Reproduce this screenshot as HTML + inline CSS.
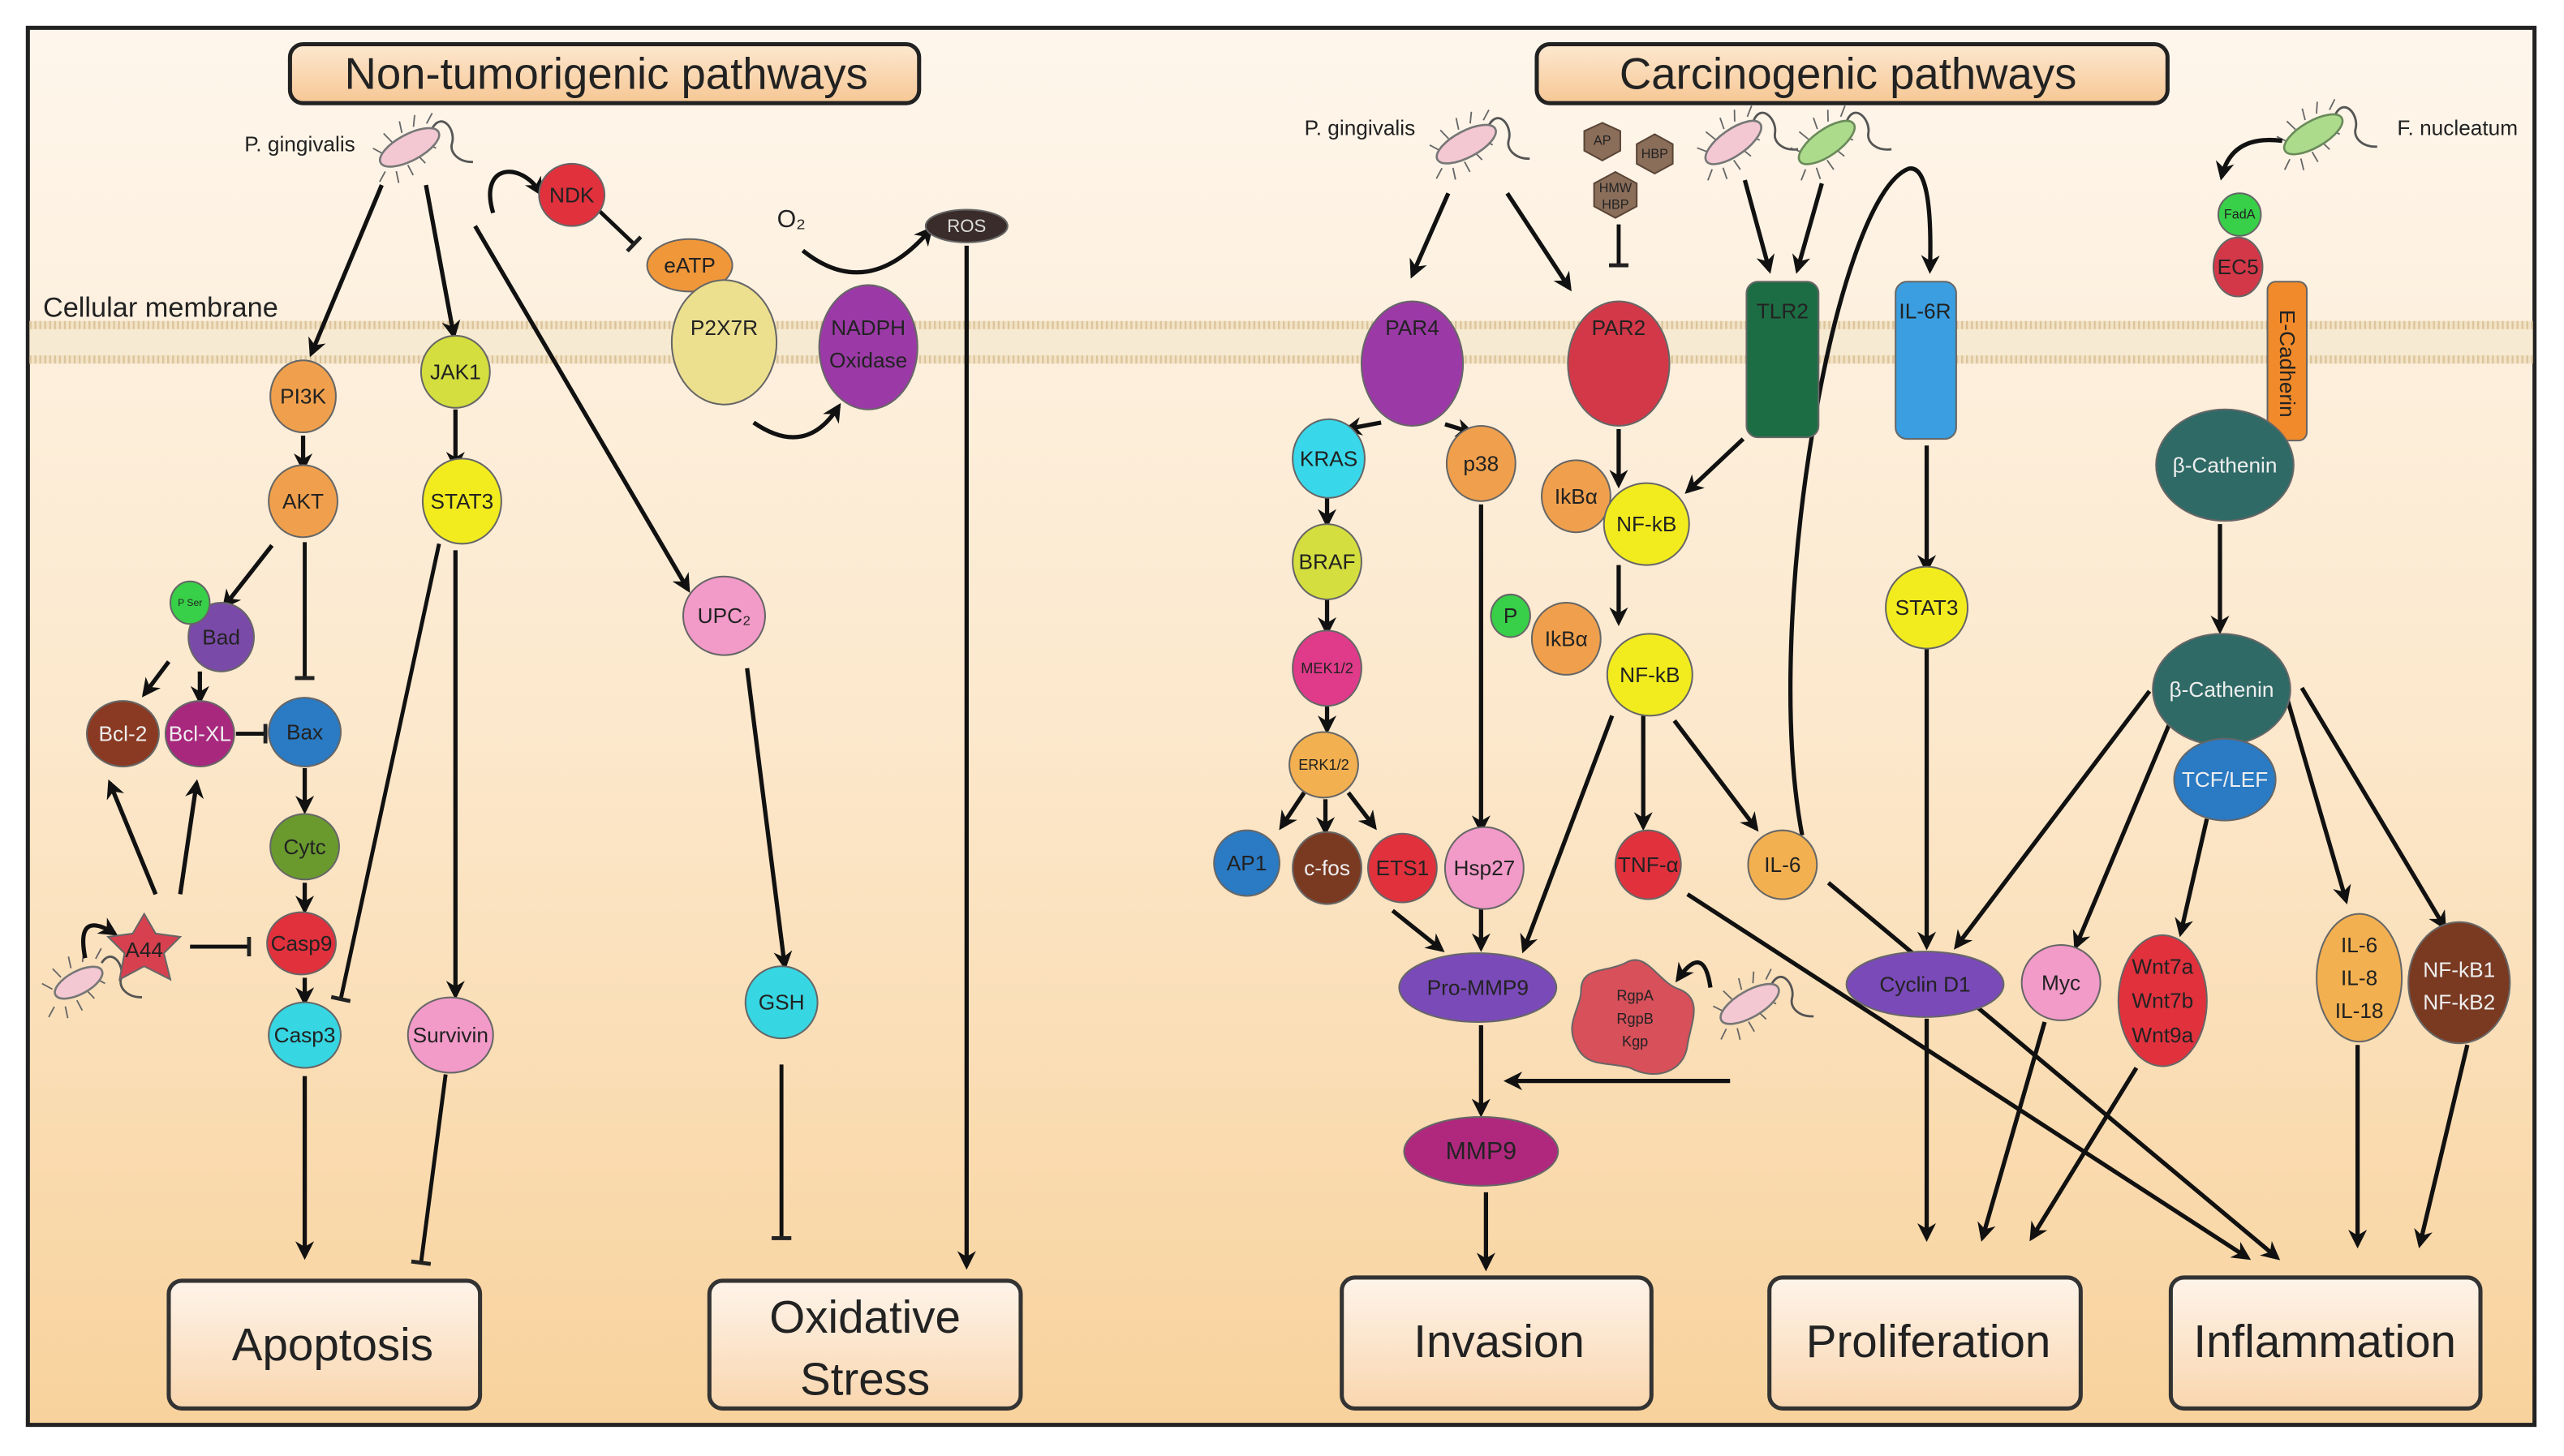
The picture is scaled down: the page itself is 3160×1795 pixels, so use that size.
<!DOCTYPE html>
<html><head><meta charset="utf-8"><style>
html,body{margin:0;padding:0;background:#fff;}
svg{display:block;}
text{font-family:"Liberation Sans Narrow","Liberation Sans",sans-serif;fill:#222;text-anchor:middle;dominant-baseline:central;}
</style></head><body>
<svg width="3160" height="1795" viewBox="0 0 1565 889" preserveAspectRatio="none" xmlns="http://www.w3.org/2000/svg">
<defs>
<linearGradient id="bg" x1="0" y1="0" x2="0" y2="1">
<stop offset="0" stop-color="#fef6ec"/><stop offset="0.5" stop-color="#fce8cc"/><stop offset="1" stop-color="#f8d29c"/></linearGradient>
<linearGradient id="tb" x1="0" y1="0" x2="0" y2="1"><stop offset="0" stop-color="#fde8d0"/><stop offset="1" stop-color="#f6c794"/></linearGradient>
<linearGradient id="ob" x1="0" y1="0" x2="0" y2="1"><stop offset="0" stop-color="#fef4ea"/><stop offset="1" stop-color="#f9d6ae"/></linearGradient>
<pattern id="mem" width="3" height="3" patternUnits="userSpaceOnUse"><rect width="3" height="3" fill="#f3e3c6"/><rect width="1.2" height="3" fill="#dcc59c"/></pattern>
<marker id="a" viewBox="0 0 10 10" refX="8" refY="5" markerWidth="4.4" markerHeight="4.4" orient="auto"><path d="M0,0 L10,5 L0,10 L3,5 z" fill="#111"/></marker>
<marker id="b" viewBox="0 0 10 10" refX="5" refY="5" markerWidth="5" markerHeight="5" orient="auto"><rect x="4" y="0" width="2" height="10" fill="#222"/></marker>
<g id="bact"><path d="M18,-4 C28,-10 30,4 24,10 C20,14 22,22 30,26" fill="none" stroke="#555" stroke-width="1.4"/>
<g stroke="#666" stroke-width="0.9"><line x1="-20" y1="6" x2="-26" y2="10"/><line x1="-14" y1="9" x2="-16" y2="16"/><line x1="-6" y1="9" x2="-6" y2="16"/><line x1="2" y1="6" x2="4" y2="13"/><line x1="10" y1="2" x2="14" y2="8"/><line x1="-16" y1="-4" x2="-20" y2="-10"/><line x1="-8" y1="-8" x2="-10" y2="-15"/><line x1="0" y1="-10" x2="2" y2="-17"/><line x1="8" y1="-10" x2="12" y2="-16"/><line x1="16" y1="-8" x2="22" y2="-12"/></g></g>
</defs>
<rect x="0" y="0" width="1565" height="889" fill="#fff"/>
<rect x="17" y="17" width="1530" height="853" fill="url(#bg)" stroke="#222" stroke-width="2.5"/>
<rect x="18" y="196" width="1528" height="26" fill="#f7ead2"/>
<rect x="18" y="196" width="1528" height="5" fill="url(#mem)"/>
<rect x="18" y="217" width="1528" height="5" fill="url(#mem)"/>
<text x="98" y="188" style="font-size:17px">Cellular membrane</text>

<rect x="177" y="27" width="384" height="36" rx="8" fill="url(#tb)" stroke="#222" stroke-width="2.5"/>
<text x="370" y="45" style="font-size:27px">Non-tumorigenic pathways</text>
<rect x="938" y="27" width="385" height="36" rx="8" fill="url(#tb)" stroke="#222" stroke-width="2.5"/>
<text x="1128" y="45" style="font-size:27px">Carcinogenic pathways</text>

<g stroke="#333" stroke-width="2.5" fill="url(#ob)">
<rect x="103" y="782" width="190" height="78" rx="8"/><rect x="433" y="782" width="190" height="78" rx="8"/>
<rect x="819" y="780" width="189" height="80" rx="8"/><rect x="1080" y="780" width="190" height="80" rx="8"/><rect x="1325" y="780" width="189" height="80" rx="8"/></g>
<g style="font-size:28px"><text x="203" y="821">Apoptosis</text><text x="528" y="804">Oxidative</text><text x="528" y="842">Stress</text>
<text x="915" y="819">Invasion</text><text x="1177" y="819">Proliferation</text><text x="1419" y="819">Inflammation</text></g>

<g fill="#f3c8d2" stroke="#777" stroke-width="1.3">
<g transform="translate(250,90) rotate(-28)"><use href="#bact"/><ellipse rx="20" ry="8"/></g>
<g transform="translate(48,600) rotate(-28)"><use href="#bact"/><ellipse rx="16" ry="7"/></g>
<g transform="translate(895,88) rotate(-28)"><use href="#bact"/><ellipse rx="20" ry="8"/></g>
<g transform="translate(1058,87) rotate(-35)"><use href="#bact"/><ellipse rx="20" ry="8"/></g>
<g transform="translate(1068,613) rotate(-30)"><use href="#bact"/><ellipse rx="20" ry="8"/></g>
</g>
<g fill="#addb8c" stroke="#6a8a5a" stroke-width="1.3">
<g transform="translate(1115,87) rotate(-35)"><use href="#bact"/><ellipse rx="20" ry="8"/></g>
<g transform="translate(1412,82) rotate(-30)"><use href="#bact"/><ellipse rx="20" ry="8"/></g>
</g>
<g style="font-size:13px"><text x="183" y="88">P. gingivalis</text><text x="830" y="78">P. gingivalis</text><text x="1500" y="78">F. nucleatum</text></g>

<g fill="#8a6e5a" stroke="#5a4536" stroke-width="1">
<polygon points="978,75 989,80 989,92 978,98 967,92 967,80"/>
<polygon points="1010,82 1021,88 1021,100 1010,106 999,100 999,88"/>
<polygon points="986,105 999,112 999,126 986,133 973,126 973,112"/>
</g>
<g style="font-size:8px"><text x="978" y="86">AP</text><text x="1010" y="94">HBP</text><text x="986" y="115">HMW</text><text x="986" y="125">HBP</text></g>

<g stroke="#111" stroke-width="2.6" fill="none" marker-end="url(#a)">
<line x1="233" y1="113" x2="190" y2="216"/>
<line x1="260" y1="113" x2="277" y2="205"/>
<line x1="290" y1="138" x2="420" y2="360"/>
<path d="M301,130 C292,100 318,98 330,118"/>
<path d="M490,153 Q530,185 568,140"/>
<path d="M460,258 Q492,280 512,248"/>
<line x1="590" y1="150" x2="590" y2="773"/>
<line x1="185" y1="266" x2="185" y2="286"/>
<line x1="278" y1="250" x2="278" y2="285"/>
<line x1="166" y1="333" x2="137" y2="370"/>
<line x1="103" y1="404" x2="88" y2="424"/>
<line x1="122" y1="410" x2="122" y2="428"/>
<line x1="186" y1="469" x2="186" y2="495"/>
<line x1="186" y1="539" x2="186" y2="556"/>
<line x1="186" y1="597" x2="186" y2="612"/>
<line x1="278" y1="336" x2="278" y2="608"/>
<line x1="95" y1="546" x2="67" y2="478"/>
<line x1="110" y1="546" x2="120" y2="478"/>
<path d="M52,585 Q46,555 70,570"/>
<line x1="186" y1="657" x2="186" y2="767"/>
<line x1="456" y1="408" x2="479" y2="590"/>
<line x1="884" y1="118" x2="862" y2="168"/>
<line x1="920" y1="118" x2="958" y2="176"/>
<line x1="1065" y1="110" x2="1080" y2="165"/>
<line x1="1112" y1="112" x2="1097" y2="165"/>
<path d="M1100,510 C1075,380 1120,120 1165,103 Q1180,100 1178,165"/>
<line x1="843" y1="258" x2="822" y2="262"/>
<line x1="882" y1="259" x2="898" y2="264"/>
<line x1="810" y1="302" x2="810" y2="320"/>
<line x1="810" y1="365" x2="810" y2="386"/>
<line x1="810" y1="428" x2="810" y2="446"/>
<line x1="796" y1="484" x2="782" y2="505"/>
<line x1="809" y1="488" x2="809" y2="508"/>
<line x1="823" y1="484" x2="839" y2="505"/>
<line x1="904" y1="308" x2="904" y2="507"/>
<line x1="988" y1="262" x2="988" y2="296"/>
<line x1="1064" y1="268" x2="1030" y2="300"/>
<line x1="988" y1="345" x2="988" y2="380"/>
<line x1="984" y1="437" x2="930" y2="580"/>
<line x1="1003" y1="437" x2="1003" y2="505"/>
<line x1="1022" y1="440" x2="1072" y2="506"/>
<line x1="850" y1="556" x2="880" y2="580"/>
<line x1="904" y1="555" x2="904" y2="579"/>
<line x1="904" y1="626" x2="904" y2="680"/>
<line x1="1056" y1="660" x2="920" y2="660"/>
<path d="M1044,603 Q1040,575 1024,598"/>
<line x1="907" y1="728" x2="907" y2="774"/>
<line x1="1176" y1="272" x2="1176" y2="348"/>
<line x1="1176" y1="395" x2="1176" y2="578"/>
<line x1="1030" y1="546" x2="1372" y2="768"/>
<line x1="1116" y1="539" x2="1390" y2="768"/>
<line x1="1355" y1="320" x2="1355" y2="385"/>
<line x1="1312" y1="422" x2="1194" y2="578"/>
<line x1="1325" y1="440" x2="1267" y2="578"/>
<line x1="1347" y1="500" x2="1331" y2="570"/>
<line x1="1395" y1="423" x2="1432" y2="550"/>
<line x1="1405" y1="420" x2="1492" y2="566"/>
<line x1="1176" y1="622" x2="1176" y2="756"/>
<line x1="1248" y1="624" x2="1210" y2="756"/>
<line x1="1304" y1="652" x2="1240" y2="756"/>
<line x1="1439" y1="638" x2="1439" y2="760"/>
<line x1="1506" y1="638" x2="1477" y2="760"/>
<path d="M1393,86 Q1362,82 1356,108"/>
</g>
<g stroke="#111" stroke-width="2.4" fill="none" marker-end="url(#b)">
<line x1="365" y1="128" x2="387" y2="149"/>
<line x1="186" y1="331" x2="186" y2="414"/>
<line x1="144" y1="448" x2="162" y2="448"/>
<line x1="268" y1="332" x2="208" y2="610"/>
<line x1="116" y1="578" x2="152" y2="578"/>
<line x1="272" y1="656" x2="257" y2="771"/>
<line x1="477" y1="650" x2="477" y2="756"/>
<line x1="988" y1="137" x2="988" y2="162"/>
</g>

<g stroke-width="1" stroke="#666">
<ellipse cx="349" cy="119" rx="20" ry="19" fill="#e0313d"/>
<ellipse cx="421" cy="162" rx="26" ry="16" fill="#f0973a"/>
<ellipse cx="442" cy="209" rx="32" ry="38" fill="#ece08f"/>
<ellipse cx="530" cy="212" rx="30" ry="38" fill="#9b3aa6"/>
<ellipse cx="590" cy="138" rx="25" ry="10" fill="#3a2c2a"/>
<ellipse cx="185" cy="242" rx="20" ry="22" fill="#f0a04c"/>
<ellipse cx="278" cy="227" rx="21" ry="22" fill="#d4de3e"/>
<ellipse cx="185" cy="306" rx="21" ry="22" fill="#f0a04c"/>
<ellipse cx="282" cy="306" rx="24" ry="26" fill="#f2ec1e"/>
<ellipse cx="135" cy="389" rx="20" ry="21" fill="#7a4aa8"/>
<ellipse cx="116" cy="368" rx="12" ry="13" fill="#38d048"/>
<ellipse cx="75" cy="448" rx="22" ry="20" fill="#8a3a22"/>
<ellipse cx="122" cy="448" rx="21" ry="20" fill="#a8287e"/>
<ellipse cx="186" cy="447" rx="22" ry="21" fill="#2a7ac4"/>
<ellipse cx="186" cy="517" rx="21" ry="20" fill="#6a9a2e"/>
<ellipse cx="184" cy="576" rx="21" ry="19" fill="#e0313d"/>
<ellipse cx="186" cy="632" rx="22" ry="20" fill="#36d6e2"/>
<ellipse cx="275" cy="632" rx="26" ry="23" fill="#f29ac8"/>
<ellipse cx="442" cy="376" rx="25" ry="24" fill="#f29ac8"/>
<ellipse cx="477" cy="612" rx="22" ry="22" fill="#36d6e2"/>
<polygon points="88,558 95,570 110,572 100,582 104,598 88,590 73,598 76,582 66,572 81,570" fill="#d7404e"/>
</g>
<g style="font-size:13px">
<text x="349" y="119">NDK</text><text x="421" y="162">eATP</text><text x="442" y="200">P2X7R</text>
<text x="530" y="200">NADPH</text><text x="530" y="220">Oxidase</text><text x="590" y="138" style="font-size:11px;fill:#ddd">ROS</text>
<text x="483" y="134" style="font-size:15px">O₂</text>
<text x="185" y="242">PI3K</text><text x="278" y="227">JAK1</text><text x="185" y="306">AKT</text><text x="282" y="306">STAT3</text>
<text x="135" y="389">Bad</text><text x="116" y="368" style="font-size:6px">P Ser</text>
<text x="75" y="448" style="fill:#eee">Bcl-2</text><text x="122" y="448" style="fill:#eee">Bcl-XL</text><text x="186" y="447">Bax</text>
<text x="186" y="517">Cytc</text><text x="184" y="576">Casp9</text><text x="186" y="632">Casp3</text><text x="275" y="632">Survivin</text>
<text x="442" y="376">UPC₂</text><text x="477" y="612">GSH</text><text x="88" y="580">A44</text>
</g>

<g stroke-width="1" stroke="#666">
<ellipse cx="862" cy="222" rx="31" ry="38" fill="#9b3aa6"/>
<ellipse cx="988" cy="222" rx="31" ry="38" fill="#d33848"/>
<rect x="1066" y="172" width="44" height="95" rx="7" fill="#1d6d44"/>
<rect x="1157" y="172" width="37" height="96" rx="7" fill="#3a9ee0"/>
<rect x="1384" y="172" width="24" height="97" rx="5" fill="#f08a2a"/>
<ellipse cx="1367" cy="131" rx="13" ry="13" fill="#38d048"/>
<ellipse cx="1366" cy="163" rx="15" ry="18" fill="#d33848"/>
<ellipse cx="1358" cy="284" rx="42" ry="34" fill="#2f6a66"/>
<ellipse cx="1356" cy="421" rx="42" ry="34" fill="#2f6a66"/>
<ellipse cx="1358" cy="476" rx="31" ry="25" fill="#2a7ac4"/>
<ellipse cx="811" cy="280" rx="22" ry="24" fill="#38d8ea"/>
<ellipse cx="904" cy="283" rx="21" ry="23" fill="#f0a04c"/>
<ellipse cx="810" cy="343" rx="21" ry="23" fill="#d4de3e"/>
<ellipse cx="810" cy="408" rx="21" ry="23" fill="#e03a8a"/>
<ellipse cx="808" cy="467" rx="21" ry="20" fill="#f2b050"/>
<ellipse cx="761" cy="527" rx="20" ry="20" fill="#2a7ac4"/>
<ellipse cx="810" cy="530" rx="21" ry="22" fill="#7a3a22"/>
<ellipse cx="856" cy="530" rx="21" ry="21" fill="#e0313d"/>
<ellipse cx="906" cy="530" rx="24" ry="25" fill="#f29ac8"/>
<ellipse cx="962" cy="303" rx="21" ry="22" fill="#f0a04c"/>
<ellipse cx="1005" cy="320" rx="26" ry="25" fill="#f2ec1e"/>
<ellipse cx="922" cy="376" rx="12" ry="13" fill="#38d048"/>
<ellipse cx="956" cy="390" rx="21" ry="22" fill="#f0a04c"/>
<ellipse cx="1007" cy="412" rx="26" ry="25" fill="#f2ec1e"/>
<ellipse cx="1006" cy="528" rx="20" ry="21" fill="#e0313d"/>
<ellipse cx="1088" cy="528" rx="21" ry="21" fill="#f2b050"/>
<ellipse cx="1176" cy="371" rx="25" ry="25" fill="#f2ec1e"/>
<ellipse cx="902" cy="603" rx="48" ry="21" fill="#7a4ab8"/>
<ellipse cx="904" cy="703" rx="47" ry="21" fill="#b0287e"/>
<ellipse cx="1175" cy="601" rx="48" ry="20" fill="#7a4ab8"/>
<ellipse cx="1258" cy="600" rx="24" ry="23" fill="#f29ac8"/>
<ellipse cx="1320" cy="611" rx="27" ry="40" fill="#e0313d"/>
<ellipse cx="1440" cy="597" rx="26" ry="39" fill="#f2b050"/>
<ellipse cx="1501" cy="600" rx="31" ry="37" fill="#7a3a22"/>
<path d="M992,588 C1005,580 1012,600 1025,604 C1040,610 1032,625 1030,638 C1028,655 1010,660 995,652 C980,648 968,652 962,638 C955,625 965,615 965,605 C965,590 980,594 992,588 z" fill="#d7505a"/>
</g>
<g style="font-size:13px">
<text x="862" y="200">PAR4</text><text x="988" y="200">PAR2</text><text x="1088" y="190">TLR2</text><text x="1175" y="190">IL-6R</text>
<text x="1396" y="222" transform="rotate(90 1396 222)">E-Cadherin</text>
<text x="1367" y="131" style="font-size:8px">FadA</text><text x="1366" y="163">EC5</text>
<text x="1358" y="284" style="fill:#eee">β-Cathenin</text><text x="1356" y="421" style="fill:#eee">β-Cathenin</text>
<text x="1358" y="476" style="fill:#eee">TCF/LEF</text>
<text x="811" y="280">KRAS</text><text x="904" y="283">p38</text><text x="810" y="343">BRAF</text>
<text x="810" y="408" style="font-size:9px">MEK1/2</text><text x="808" y="467" style="font-size:9px">ERK1/2</text>
<text x="761" y="527">AP1</text><text x="810" y="530" style="fill:#eee">c-fos</text><text x="856" y="530">ETS1</text><text x="906" y="530">Hsp27</text>
<text x="962" y="303">IkBα</text><text x="1005" y="320">NF-kB</text><text x="922" y="376">P</text><text x="956" y="390">IkBα</text><text x="1007" y="412">NF-kB</text>
<text x="1006" y="528">TNF-α</text><text x="1088" y="528">IL-6</text><text x="1176" y="371">STAT3</text>
<text x="902" y="603">Pro-MMP9</text><text x="904" y="703" style="font-size:15px">MMP9</text>
<text x="1175" y="601">Cyclin D1</text><text x="1258" y="600">Myc</text>
<text x="1320" y="590">Wnt7a</text><text x="1320" y="611">Wnt7b</text><text x="1320" y="632">Wnt9a</text>
<text x="1440" y="577">IL-6</text><text x="1440" y="597">IL-8</text><text x="1440" y="617">IL-18</text>
<text x="1501" y="592" style="fill:#eee">NF-kB1</text><text x="1501" y="612" style="fill:#eee">NF-kB2</text>
<text x="998" y="608" style="font-size:9px">RgpA</text><text x="998" y="622" style="font-size:9px">RgpB</text><text x="998" y="636" style="font-size:9px">Kgp</text>
</g>
</svg>
</body></html>
